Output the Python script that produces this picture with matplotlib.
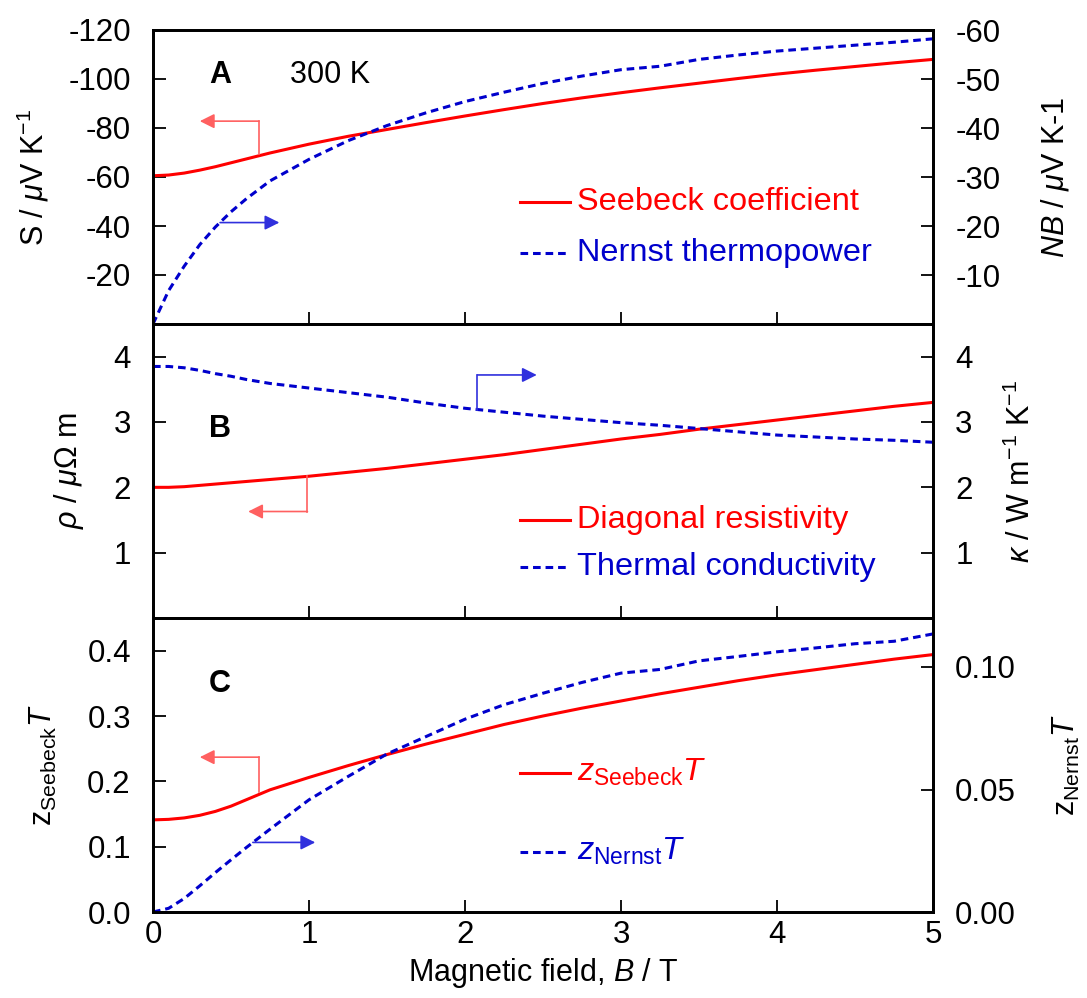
import matplotlib
matplotlib.use("Agg")
import matplotlib.pyplot as plt

plt.rcParams['font.family'] = ['Liberation Sans', 'DejaVu Sans']
plt.rcParams['mathtext.fontset'] = 'custom'
plt.rcParams['mathtext.rm'] = 'Liberation Sans'
plt.rcParams['mathtext.it'] = 'Liberation Sans:italic'
plt.rcParams['mathtext.bf'] = 'Liberation Sans:bold'
plt.rcParams['axes.unicode_minus'] = False

# magnetic field, T
B = [0, 0.1, 0.2, 0.3, 0.4, 0.5, 0.6, 0.75, 1.0, 1.25, 1.5, 1.75, 2.0, 2.25,
     2.5, 2.75, 3.0, 3.25, 3.5, 3.75, 4.0, 4.25, 4.5, 4.75, 5.0]

# panel A
seebeck = [-60.5, -60.8, -61.6, -62.8, -64.2, -65.8, -67.4, -69.8, -73.4, -76.6,
           -79.4, -82.2, -84.9, -87.5, -90.0, -92.3, -94.4, -96.4, -98.3, -100.2,
           -102.0, -103.6, -105.1, -106.6, -108.0]
nernst = [0.0, -6.8, -11.8, -16.2, -19.8, -22.9, -25.6, -29.2, -33.6, -37.4,
          -40.5, -43.1, -45.4, -47.3, -49.1, -50.6, -51.9, -52.6, -54.0, -54.9,
          -55.7, -56.3, -56.9, -57.5, -58.2]

# panel B
rho = [2.00, 2.00, 2.01, 2.03, 2.05, 2.07, 2.09, 2.12, 2.17, 2.23, 2.29, 2.36,
       2.43, 2.50, 2.58, 2.66, 2.74, 2.81, 2.89, 2.96, 3.03, 3.10, 3.17, 3.24, 3.30]
kappa = [3.85, 3.85, 3.83, 3.79, 3.74, 3.70, 3.65, 3.59, 3.52, 3.45, 3.38, 3.29,
         3.21, 3.15, 3.09, 3.04, 2.99, 2.95, 2.90, 2.85, 2.80, 2.77, 2.74, 2.72, 2.69]

# panel C
zT_seebeck = [0.141, 0.1418, 0.144, 0.148, 0.154, 0.162, 0.172, 0.187, 0.206, 0.224,
              0.241, 0.257, 0.272, 0.287, 0.300, 0.312, 0.323, 0.334, 0.344, 0.354,
              0.363, 0.371, 0.379, 0.387, 0.394]
zT_nernst = [0.0, 0.0015, 0.0055, 0.0107, 0.0161, 0.0213, 0.0264, 0.0338, 0.0458,
             0.0553, 0.0645, 0.0716, 0.0787, 0.0846, 0.0893, 0.0937, 0.0975, 0.0990,
             0.1025, 0.1043, 0.1062, 0.1078, 0.1095, 0.1105, 0.1135]

RED = '#ff0000'
BLUE = '#0000cc'
DASH = (0, (2.5, 1.6))
FS_TICK = 22.5
FS_LAB = 22
FS_LEG = 23.4

fig = plt.figure(figsize=(10.87, 9.98), dpi=100)
left, width = 153 / 1087, 780 / 1087
bottom, top = 86 / 998, 968 / 998
h = (top - bottom) / 3


def style(ax):
    for s in ax.spines.values():
        s.set_linewidth(2)
    ax.tick_params(direction='in', length=9, width=1.3, labelsize=FS_TICK)
    ax.tick_params(axis='y', pad=16)
    ax.tick_params(axis='x', pad=6)
    ax.set_xlim(0, 5)


def legend_entry(ax, y, color, ls, text):
    ax.plot([0.4705, 0.5346], [y, y], transform=ax.transAxes, color=color,
            ls=ls, lw=2.2, clip_on=False)
    ax.text(0.5436, y, text, transform=ax.transAxes, color=color,
            fontsize=FS_LEG, va='center', ha='left')


def pointer(ax, pts, color):
    # polyline with arrowhead on the last segment
    xs = [p[0] for p in pts]
    ys = [p[1] for p in pts]
    ax.plot(xs[:-1], ys[:-1], color=color, lw=1.2)
    ax.annotate('', xy=pts[-1], xytext=pts[-2],
                arrowprops=dict(arrowstyle='-|>', color=color, lw=1.2,
                                mutation_scale=22, shrinkA=0, shrinkB=0))


# ---------- panel A ----------
axA = fig.add_axes([left, bottom + 2 * h, width, h])
axA2 = axA.twinx()
axA.plot(B, seebeck, color=RED, lw=2.2)
axA2.plot(B, nernst, color=BLUE, lw=2.2, ls=DASH)
axA.set_ylim(0, -120)
axA.set_yticks([-20, -40, -60, -80, -100, -120])
axA2.set_ylim(0, -60)
axA2.set_yticks([-10, -20, -30, -40, -50, -60])
axA.set_ylabel(r'S / $\mu$V K$^{-1}$', fontsize=FS_LAB, labelpad=12)
axA2.set_ylabel(r'$NB$ / $\mu$V K-1', fontsize=FS_LAB, labelpad=28)
for a in (axA, axA2):
    style(a)
axA.tick_params(labelbottom=False)
axA.text(0.086, 0.847, 'A', transform=axA.transAxes, fontsize=FS_LAB,
         fontweight='bold', ha='center', va='center')
axA.text(0.176, 0.847, '300 K', transform=axA.transAxes, fontsize=FS_LAB,
         ha='left', va='center')
pointer(axA, [(0.68, -69.4), (0.68, -82.8), (0.30, -82.8)], '#ff6060')
pointer(axA2, [(0.43, -20.7), (0.81, -20.7)], '#3030dd')
legend_entry(axA, 0.4136, RED, '-', 'Seebeck coefficient')
legend_entry(axA, 0.2407, BLUE, DASH, 'Nernst thermopower')

# ---------- panel B ----------
axB = fig.add_axes([left, bottom + h, width, h])
axB2 = axB.twinx()
axB.plot(B, rho, color=RED, lw=2.2)
axB2.plot(B, kappa, color=BLUE, lw=2.2, ls=DASH)
axB.set_ylim(0, 4.5)
axB.set_yticks([1, 2, 3, 4])
axB2.set_ylim(0, 4.5)
axB2.set_yticks([1, 2, 3, 4])
axB.set_ylabel(r'$\rho$ / $\mu\Omega$ m', fontsize=FS_LAB, labelpad=20)
axB2.set_ylabel(r'$\kappa$ / W m$^{-1}$ K$^{-1}$', fontsize=FS_LAB, labelpad=24)
for a in (axB, axB2):
    style(a)
axB.tick_params(labelbottom=False)
axB.text(0.086, 0.643, 'B', transform=axB.transAxes, fontsize=FS_LAB,
         fontweight='bold', ha='center', va='center')
pointer(axB, [(0.99, 2.17), (0.99, 1.63), (0.61, 1.63)], '#ff6060')
pointer(axB2, [(2.08, 3.18), (2.08, 3.72), (2.46, 3.72)], '#3030dd')
legend_entry(axB, 0.333, RED, '-', 'Diagonal resistivity')
legend_entry(axB, 0.173, BLUE, DASH, 'Thermal conductivity')

# ---------- panel C ----------
axC = fig.add_axes([left, bottom, width, h])
axC2 = axC.twinx()
axC.plot(B, zT_seebeck, color=RED, lw=2.2)
axC2.plot(B, zT_nernst, color=BLUE, lw=2.2, ls=DASH)
axC.set_ylim(0, 0.45)
axC.set_yticks([0.0, 0.1, 0.2, 0.3, 0.4])
axC.set_yticklabels(['0.0', '0.1', '0.2', '0.3', '0.4'])
axC2.set_ylim(0, 0.12)
axC2.set_yticks([0.0, 0.05, 0.10])
axC2.set_yticklabels(['0.00', '0.05', '0.10'])
axC.set_ylabel(r'z$_{\mathrm{Seebeck}}$$T$', fontsize=FS_LAB, labelpad=20)
axC2.set_ylabel(r'z$_{\mathrm{Nernst}}$$T$', fontsize=FS_LAB, labelpad=25)
for a in (axC, axC2):
    style(a)
axC.set_xticks([0, 1, 2, 3, 4, 5])
axC.set_xlabel(r'Magnetic field, $B$ / T', fontsize=FS_LAB, labelpad=4)
axC.text(0.086, 0.775, 'C', transform=axC.transAxes, fontsize=FS_LAB,
         fontweight='bold', ha='center', va='center')
pointer(axC, [(0.68, 0.183), (0.68, 0.237), (0.30, 0.237)], '#ff6060')
pointer(axC2, [(0.64, 0.0284), (1.04, 0.0284)], '#3030dd')
legend_entry(axC, 0.474, RED, '-', r'$z_{\mathrm{Seebeck}}T$')
legend_entry(axC, 0.205, BLUE, DASH, r'$z_{\mathrm{Nernst}}T$')

fig.savefig('out.png', dpi=100)
